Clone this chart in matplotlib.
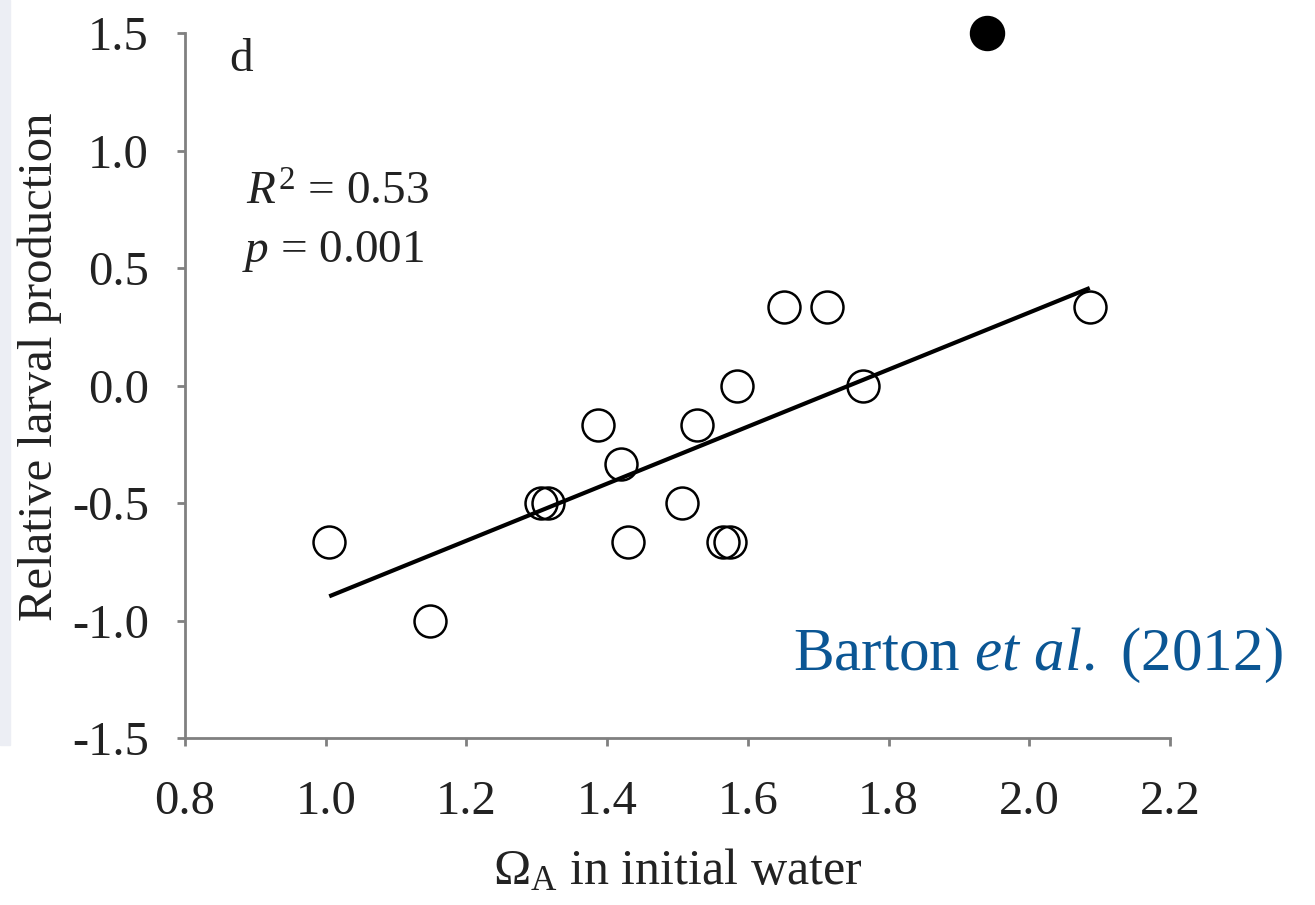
import matplotlib
matplotlib.use('Agg')
import matplotlib.pyplot as plt
from matplotlib.patches import Rectangle

plt.rcParams['font.family'] = ['Liberation Serif', 'DejaVu Serif']
plt.rcParams['mathtext.fontset'] = 'custom'
plt.rcParams['mathtext.rm'] = 'Liberation Serif'
plt.rcParams['mathtext.it'] = 'Liberation Serif:italic'

# open circles: omega_A vs relative larval production
omega = [1.005, 1.148, 1.306, 1.316, 1.387, 1.420, 1.429, 1.507, 1.528,
         1.565, 1.575, 1.584, 1.651, 1.712, 1.763, 2.086]
larval = [-0.667, -1.0, -0.5, -0.5, -0.167, -0.333, -0.667, -0.5, -0.167,
          -0.667, -0.667, 0.0, 0.333, 0.333, 0.0, 0.333]

# outlier (filled)
omega_out = [1.94]
larval_out = [1.5]

# regression line ends
fit_x = [1.005, 2.086]
fit_y = [-0.897, 0.415]

xticks = [0.8, 1.0, 1.2, 1.4, 1.6, 1.8, 2.0, 2.2]
yticks = [-1.5, -1.0, -0.5, 0.0, 0.5, 1.0, 1.5]

fig = plt.figure(figsize=(13.15, 9.05), dpi=100)
ax = fig.add_axes([0.1407, 0.1845, 0.7490, 0.7790])

# faint band on the left edge of the source image
fig.patches.append(Rectangle((0, 1 - 745 / 905), 10 / 1315, 745 / 905,
                             transform=fig.transFigure, color='#eceef4', zorder=0))

ax.plot(fit_x, fit_y, color='black', lw=3.0, solid_capstyle='butt', zorder=2)
ax.plot(omega, larval, 'o', ms=23, mfc='none', mec='black', mew=1.8,
        linestyle='none', zorder=4)
ax.plot(omega_out, larval_out, 'o', ms=24.5, color='black', zorder=4,
        clip_on=False)

ax.set_xlim(0.8, 2.2)
ax.set_ylim(-1.5, 1.5)
ax.set_xticks(xticks)
ax.set_yticks(yticks)
ax.set_xticklabels([f'{v:.1f}' for v in xticks])
ax.set_yticklabels([f'{v:.1f}' for v in yticks])

for s in ['top', 'right']:
    ax.spines[s].set_visible(False)
for s in ['left', 'bottom']:
    ax.spines[s].set_color('#808080')
    ax.spines[s].set_linewidth(2)
ax.tick_params(direction='out', length=6, width=2, color='#808080',
               labelsize=35, labelcolor='#222222')
ax.tick_params(axis='x', pad=24)
ax.tick_params(axis='y', pad=20)
ax.patch.set_visible(False)

ax.set_xlabel(r'$\Omega_{\mathrm{A}}$ in initial water', fontsize=36,
              color='#222222', labelpad=18)
fig.text(40 / 1315, 1 - 367 / 905, 'Relative larval production', fontsize=35,
         color='#222222', rotation=90, ha='center', va='center')

ax.text(0.045, 0.992, 'd', transform=ax.transAxes, fontsize=34,
        color='#222222', va='top')
ax.text(0.062, 0.772, r'$R^2$ = 0.53', transform=ax.transAxes, fontsize=34,
        color='#222222', va='center')
ax.text(0.058, 0.69, r'$p$ = 0.001', transform=ax.transAxes, fontsize=34,
        color='#222222', va='center')

fig.text(0.9757, 1 - 655 / 905, r'Barton $\mathit{et\ al.}$ (2012)',
         fontsize=44, color='#0b5694', ha='right', va='center')

fig.savefig('out.png', dpi=100)
